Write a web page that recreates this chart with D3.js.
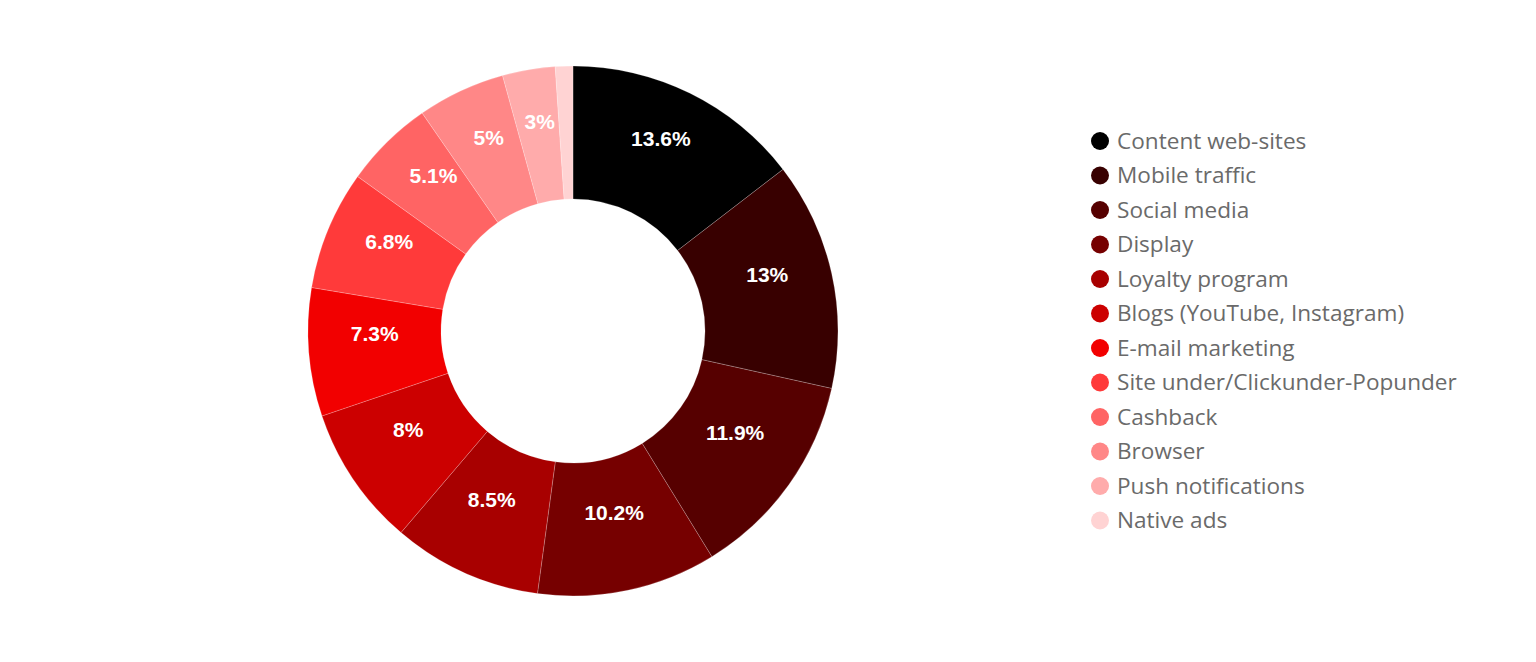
<!DOCTYPE html>
<html>
<head>
<meta charset="utf-8">
<script src="https://cdn.jsdelivr.net/npm/d3@7"></script>
<style>
  html, body { margin: 0; padding: 0; background: #ffffff; }
  svg { display: block; }
</style>
</head>
<body>
<svg id="chart" width="1536" height="662"></svg>
<script>
const categories = [
  "Content web-sites", "Mobile traffic", "Social media", "Display",
  "Loyalty program", "Blogs (YouTube, Instagram)", "E-mail marketing",
  "Site under/Clickunder-Popunder", "Cashback", "Browser",
  "Push notifications", "Native ads"
];
const values = [13.6, 13, 11.9, 10.2, 8.5, 8, 7.3, 6.8, 5.1, 5, 3, 1];
const valueLabels = ["13.6%", "13%", "11.9%", "10.2%", "8.5%", "8%", "7.3%", "6.8%", "5.1%", "5%", "3%", ""];
const colors = [
  "#000000", "#380000", "#560000", "#760000", "#a80000", "#cc0000",
  "#f20000", "#ff3a3a", "#ff6464", "#ff8787", "#ffabab", "#ffd3d3"
];

const svg = d3.select("#chart");
const cx = 573, cy = 331, outerR = 265, innerR = 132, labelR = 199;

const data = categories.map((c, i) => ({ name: c, value: values[i], label: valueLabels[i], color: colors[i] }));

const pie = d3.pie().value(d => d.value).sort(null);
const arc = d3.arc().innerRadius(innerR).outerRadius(outerR);
const labelArc = d3.arc().innerRadius(labelR).outerRadius(labelR);

const g = svg.append("g").attr("transform", `translate(${cx},${cy})`);
const arcs = pie(data);

g.selectAll("path.slice")
  .data(arcs)
  .enter().append("path")
  .attr("class", "slice")
  .attr("d", arc)
  .attr("fill", d => d.data.color)
  .attr("stroke", "rgba(255,255,255,0.35)")
  .attr("stroke-width", 0.6);

g.selectAll("text.vlabel")
  .data(arcs.filter(d => d.data.label))
  .enter().append("text")
  .attr("class", "vlabel")
  .attr("x", d => labelArc.centroid(d)[0])
  .attr("y", d => labelArc.centroid(d)[1] - 6)
  .attr("text-anchor", "middle")
  .attr("font-family", "'Liberation Sans', Arial, sans-serif")
  .attr("font-weight", "bold")
  .attr("font-size", 21)
  .attr("fill", "#ffffff")
  .text(d => d.data.label);

// Legend
const legendX = 1100, legendY0 = 141, legendStep = 34.5;
const legend = svg.append("g");
const items = legend.selectAll("g.item")
  .data(data)
  .enter().append("g")
  .attr("class", "item")
  .attr("transform", (d, i) => `translate(${legendX},${legendY0 + i * legendStep})`);

items.append("circle")
  .attr("r", 9)
  .attr("fill", d => d.color);

const texts = items.append("text")
  .attr("x", 17)
  .attr("y", 0)
  .attr("dy", "0.35em")
  .attr("font-family", "'Open Sans', 'Noto Sans', sans-serif")
  .attr("font-size", 20)
  .attr("fill", "#6a6a6a")
  .text(d => d.name);

// fit widest legend entry to reference width
let maxW = 0;
texts.each(function() { maxW = Math.max(maxW, this.getComputedTextLength()); });
const targetW = 340;
const fs = 20 * targetW / maxW;
texts.attr("font-size", fs);
</script>
</body>
</html>
